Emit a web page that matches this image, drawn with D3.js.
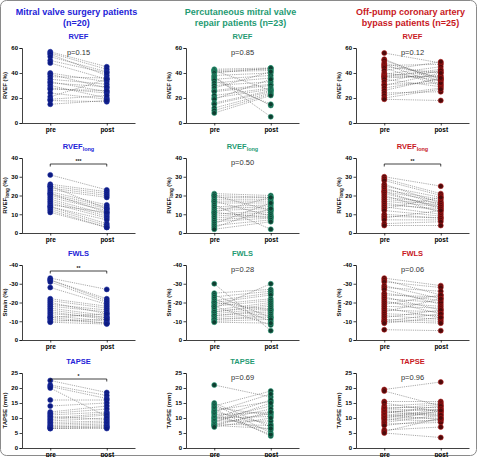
<!doctype html>
<html>
<head>
<meta charset="utf-8">
<script src="https://cdn.jsdelivr.net/npm/d3@7"></script>
<style>
  body { margin: 0; background: #fff; }
  svg { font-family: "Liberation Sans", Arial, sans-serif; }
</style>
</head>
<body>
<svg id="chart" width="480" height="457"></svg>
<script>
// group headers (two lines each)
var groupNames = [
  ["Mitral valve surgery patients", "(n=20)"],
  ["Percutaneous mitral valve", "repair patients (n=23)"],
  ["Off-pump coronary artery", "bypass patients (n=25)"]
];
var timepoints = ["pre", "post"];

// row measures
var measures = ["RVEF", "RVEF", "FWLS", "TAPSE"];
var measureSubs = ["", "long", "", ""];
var yTitles = ["RVEF (%)", "RVEF", "Strain (%)", "TAPSE (mm)"];
var yDomains = [[0, 60], [0, 40], [0, -40], [0, 25]];
var yTicks = [[0, 20, 40, 60], [0, 10, 20, 30, 40], [0, -10, -20, -30, -40], [0, 5, 10, 15, 20, 25]];

// annotations per row, per group (p value or significance stars)
var annotRVEF = ["p=0.15", "p=0.85", "p=0.12"];
var annotRVEFlong = ["***", "p=0.50", "**"];
var annotFWLS = ["**", "p=0.28", "p=0.06"];
var annotTAPSE = ["*", "p=0.69", "p=0.96"];

// ---- Mitral valve surgery (n=20)
var mvsRvefPre  = [57, 56, 55, 53, 50, 48, 40, 39, 37, 35, 33, 32, 30, 28, 27, 24, 21, 19, 18, 15];
var mvsRvefPost = [45, 43, 38, 41, 40, 35, 33, 28, 36, 31, 25, 29, 20, 24, 26, 19, 35, 22, 17, 18];
var mvsLongPre  = [31, 26, 25, 25, 24, 23, 22, 21, 21, 20, 19, 18, 17, 16, 15, 14, 14, 13, 12, 11];
var mvsLongPost = [23, 22, 21, 13, 20, 19, 15, 14, 11, 13, 12, 10, 9, 8, 11, 7, 5, 4, 3, 3];
var mvsFwlsPre  = [-33, -32, -32, -31, -28, -22, -21, -20, -19, -18, -17, -16, -15, -14, -13, -12, -12, -11, -10, -9.5];
var mvsFwlsPost = [-27, -22, -21, -20, -19, -18, -17, -14, -16, -15, -13, -12, -11, -12, -10, -9, -14, -9, -11, -8.5];
var mvsTapsePre  = [22.5, 21, 20.5, 20, 16, 14, 12, 11.5, 11, 10.5, 10, 9.5, 9, 8.5, 8, 7.5, 7, 7, 6.5, 6.5];
var mvsTapsePost = [18.5, 17.5, 16.5, 10.5, 16, 15, 14, 13, 12, 9.5, 11.5, 11, 10, 9, 8.5, 8, 7.5, 7, 7, 6.5];

// ---- Percutaneous mitral valve repair (n=23)
var pmvRvefPre  = [43, 42, 42, 41, 40, 38, 37, 36, 35, 34, 32, 30, 28, 26, 25, 22, 20, 19, 16, 15, 12, 10, 8];
var pmvRvefPost = [44, 43, 26, 42, 44, 40, 5, 14, 38, 15, 36, 33, 41, 31, 30, 28, 27, 35, 26, 25, 24, 23, 22];
var pmvLongPre  = [21, 20, 20, 19, 18, 17, 17, 16, 15, 14, 13, 12, 11, 11, 10, 9, 8, 7, 6, 5, 4, 3, 2];
var pmvLongPost = [20, 19, 12, 19, 18, 9, 17, 16, 2, 15, 14, 13, 19, 8, 12, 11, 10, 9, 8, 16, 7, 13, 6];
var pmvFwlsPre  = [-30, -25, -24, -23, -22, -21, -20, -20, -19, -18, -18, -17, -16, -15, -15, -14, -13, -13, -12, -11, -11, -10, -9.5];
var pmvFwlsPost = [-5, -27, -12, -26, -10, -25, -16, -24, -22, -8, -21, -30, -20, -19, -18, -17, -16, -15, -14, -13, -12, -11, -9];
var pmvTapsePre  = [21, 15, 14.5, 14, 13.5, 13, 12.5, 12, 12, 11.5, 11, 10.5, 10, 10, 9.5, 9, 9, 8.5, 8, 8, 7.5, 7.5, 7];
var pmvTapsePost = [17, 7, 5, 19, 11, 4, 15.5, 18, 8, 4.5, 12, 6, 16, 10.5, 14, 9, 13, 15, 11.5, 7.5, 12, 6.5, 10];

// ---- Off-pump coronary artery bypass (n=25)
var opRvefPre  = [56, 51, 50, 48, 47, 46, 45, 44, 42, 40, 39, 38, 37, 37, 36, 35, 33, 31, 30, 28, 26, 24, 22, 20, 19];
var opRvefPost = [48, 33, 35, 36, 31, 47, 40, 30, 49, 34, 45, 41, 37, 43, 38, 29, 42, 32, 40, 35, 36, 25, 28, 27, 18];
var opLongPre  = [30, 29, 28, 26, 25, 24, 23, 22, 22, 21, 20, 19, 18, 17, 16, 15, 14, 13, 12, 10, 9, 8, 7, 5, 4];
var opLongPost = [25, 21, 20, 16, 19, 15, 18, 13, 17, 14, 11, 16, 15, 14, 12, 13, 10, 19, 9, 8, 8, 12, 7, 6, 4];
var opFwlsPre  = [-33, -32, -31, -29, -28, -27, -25, -24, -23, -22, -21, -20, -19, -18, -17, -16, -15, -14, -13, -12, -11, -10, -10, -9, -5.5];
var opFwlsPost = [-29, -24, -28, -22, -26, -19, -21, -23, -16, -20, -14, -18, -24, -17, -12, -15, -22, -13, -11, -16, -10, -14, -9, -12, -5];
var opTapsePre  = [19.5, 19, 15.5, 15, 14, 13.5, 13, 13, 12.5, 12, 12, 11.5, 11, 11, 10.5, 10, 10, 9.5, 9, 8.5, 8, 7.5, 6, 5.5, 5];
var opTapsePost = [22, 14, 15.5, 12, 15, 13.5, 14.5, 12.5, 11, 13, 10.5, 14, 12, 9.5, 11.5, 13, 10, 9, 12.5, 11, 8.5, 9.5, 7, 10, 3.5];

var groupColors = [
  { text: "#2323d8", fill: "#0c1a80", stroke: "#1b2ca0" },
  { text: "#1f9b73", fill: "#0f3d30", stroke: "#2aa37c" },
  { text: "#c8171e", fill: "#4c0a0a", stroke: "#b41818" }
];

var panels = [
  [[mvsRvefPre, mvsRvefPost], [mvsLongPre, mvsLongPost], [mvsFwlsPre, mvsFwlsPost], [mvsTapsePre, mvsTapsePost]],
  [[pmvRvefPre, pmvRvefPost], [pmvLongPre, pmvLongPost], [pmvFwlsPre, pmvFwlsPost], [pmvTapsePre, pmvTapsePost]],
  [[opRvefPre, opRvefPost], [opLongPre, opLongPost], [opFwlsPre, opFwlsPost], [opTapsePre, opTapsePost]]
];
var annots = [annotRVEF, annotRVEFlong, annotFWLS, annotTAPSE];

// layout
var colLeft = [22, 186, 356];
var plotW = 113;
var rowTop = [48, 158, 265, 373];
var plotH = 75;

var svg = d3.select("#chart");

svg.append("rect")
  .attr("x", 0.5).attr("y", 0.5)
  .attr("width", 476).attr("height", 455)
  .attr("rx", 6)
  .attr("fill", "none")
  .attr("stroke", "#8a8a8a")
  .attr("stroke-width", 1);

groupNames.forEach(function (lines, c) {
  var cx = colLeft[c] + plotW / 2 - 2;
  var t = svg.append("text")
    .attr("x", cx).attr("y", 15)
    .attr("text-anchor", "middle")
    .attr("font-size", "9px")
    .attr("font-weight", "bold")
    .attr("fill", groupColors[c].text);
  t.append("tspan").attr("x", cx).attr("dy", 0).text(lines[0]);
  t.append("tspan").attr("x", cx).attr("dy", 11).text(lines[1]);
});

panels.forEach(function (rows, c) {
  var col = groupColors[c];
  rows.forEach(function (pair, r) {
    var left = colLeft[c], top = rowTop[r];
    var x = d3.scalePoint().domain(timepoints).range([left, left + plotW]).padding(0.5);
    var y = d3.scaleLinear().domain(yDomains[r]).range([top + plotH, top]);
    var g = svg.append("g");

    // panel title
    var tt = g.append("text")
      .attr("x", left + plotW / 2)
      .attr("y", top - 9)
      .attr("text-anchor", "middle")
      .attr("font-size", "7.5px")
      .attr("font-weight", "bold")
      .attr("fill", col.text);
    tt.append("tspan").text(measures[r]);
    if (measureSubs[r]) {
      tt.append("tspan").attr("font-size", "5.5px").attr("dy", 2).text(measureSubs[r]);
    }

    // y axis
    var ya = g.append("g")
      .attr("transform", "translate(" + left + ",0)")
      .call(d3.axisLeft(y).tickValues(yTicks[r]).tickSize(2.5).tickPadding(1.5)
        .tickFormat(function (d) { return String(d); }));
    ya.selectAll("text").attr("font-size", "6px").attr("font-weight", "bold").attr("font-family", "Liberation Sans, Arial, sans-serif");
    ya.selectAll("path, line").attr("stroke", "#111").attr("stroke-width", 0.8);

    // x axis
    var xa = g.append("g")
      .attr("transform", "translate(0," + (top + plotH) + ")")
      .call(d3.axisBottom(x).tickSize(2.5).tickPadding(1.5).tickSizeOuter(0));
    xa.selectAll("text").attr("font-size", "6.5px").attr("font-weight", "bold").attr("font-family", "Liberation Sans, Arial, sans-serif");
    xa.selectAll("path, line").attr("stroke", "#111").attr("stroke-width", 0.8);

    // y title
    var yt = g.append("text")
      .attr("transform", "translate(" + (left - 15) + "," + (top + plotH / 2) + ") rotate(-90)")
      .attr("text-anchor", "middle")
      .attr("font-size", "6px")
      .attr("font-weight", "bold")
      .attr("fill", "#111");
    yt.append("tspan").text(yTitles[r]);
    if (measureSubs[r]) {
      yt.append("tspan").attr("font-size", "4.5px").attr("dy", 1.5).text(measureSubs[r]);
      yt.append("tspan").attr("dy", -1.5).text("  (%)");
    }

    // paired lines
    var pre = pair[0], post = pair[1];
    var pairs = pre.map(function (v, i) { return [v, post[i]]; });
    g.selectAll("line.pair").data(pairs).enter().append("line")
      .attr("class", "pair")
      .attr("x1", x("pre")).attr("x2", x("post"))
      .attr("y1", function (d) { return y(d[0]); })
      .attr("y2", function (d) { return y(d[1]); })
      .attr("stroke", "#555")
      .attr("stroke-width", 0.5)
      .attr("stroke-dasharray", "1.2,1");

    // points
    [["pre", pre], ["post", post]].forEach(function (tp) {
      g.selectAll(null).data(tp[1]).enter().append("circle")
        .attr("cx", x(tp[0]))
        .attr("cy", function (d) { return y(d); })
        .attr("r", 2.5)
        .attr("fill", col.fill)
        .attr("stroke", col.stroke)
        .attr("stroke-width", 0.6);
    });

    // annotation
    var a = annots[r][c];
    if (a.indexOf("p=") === 0) {
      g.append("text")
        .attr("x", left + plotW / 2)
        .attr("y", top + 7)
        .attr("text-anchor", "middle")
        .attr("font-size", "7.5px")
        .attr("fill", "#333")
        .text(a);
    } else {
      var by = top + 6;
      g.append("path")
        .attr("d", "M" + x("pre") + "," + (by + 2.5) + "V" + by + "H" + x("post") + "V" + (by + 2.5))
        .attr("fill", "none")
        .attr("stroke", "#111")
        .attr("stroke-width", 0.8);
      g.append("text")
        .attr("x", (x("pre") + x("post")) / 2)
        .attr("y", by - 1.5)
        .attr("text-anchor", "middle")
        .attr("font-size", "5px")
        .attr("font-weight", "bold")
        .attr("fill", "#111")
        .text(a);
    }
  });
});
</script>
</body>
</html>
